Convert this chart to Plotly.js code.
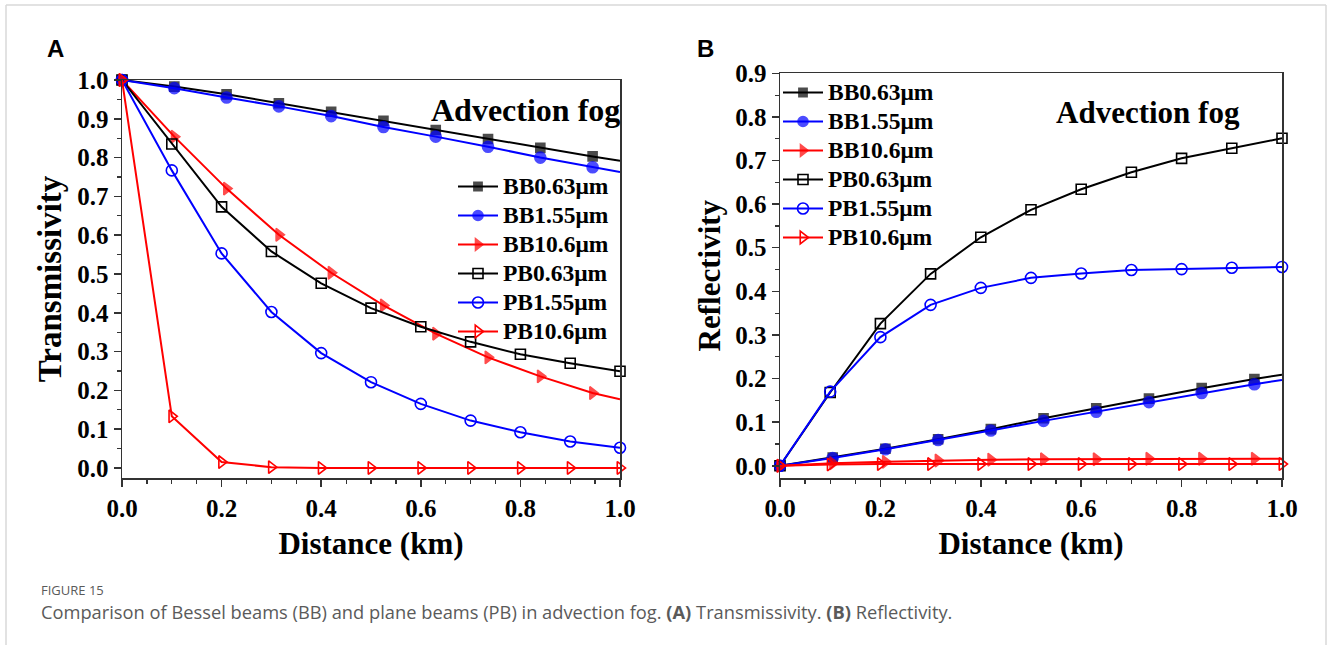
<!DOCTYPE html>
<html>
<head>
<meta charset="utf-8">
<script src="https://cdn.plot.ly/plotly-3.0.1.min.js"></script>
<style>
html,body{margin:0;padding:0;background:#fff;}
#chart{width:1332px;height:645px;}
</style>
</head>
<body>
<div id="chart"></div>
<script>
// ---------- data ----------
// Bessel beams sampled every 0.105 km (plus end point 1.0)
const xBB = [0, 0.105, 0.21, 0.315, 0.42, 0.525, 0.63, 0.735, 0.84, 0.945, 1.0];
// Plane beams sampled every 0.1 km
const xPB = [0, 0.1, 0.2, 0.3, 0.4, 0.5, 0.6, 0.7, 0.8, 0.9, 1.0];

// Panel A: transmissivity
const tBB063 = [1, 0.983, 0.963, 0.940, 0.918, 0.895, 0.871, 0.848, 0.825, 0.803, 0.792];
const tBB155 = [1, 0.979, 0.955, 0.932, 0.907, 0.879, 0.854, 0.828, 0.800, 0.775, 0.763];
const tBB106 = [1, 0.854, 0.720, 0.601, 0.503, 0.419, 0.346, 0.285, 0.236, 0.193, 0.177];
const tPB063 = [1, 0.835, 0.673, 0.558, 0.476, 0.412, 0.364, 0.325, 0.293, 0.270, 0.249];
const tPB155 = [1, 0.767, 0.553, 0.402, 0.296, 0.221, 0.165, 0.122, 0.092, 0.068, 0.052];
const tPB106 = [1, 0.133, 0.015, 0.002, 0, 0, 0, 0, 0, 0, 0];

// Panel B: reflectivity
const rBB063 = [0, 0.019, 0.039, 0.061, 0.084, 0.109, 0.132, 0.154, 0.178, 0.199, 0.209];
const rBB155 = [0, 0.018, 0.038, 0.059, 0.081, 0.103, 0.124, 0.146, 0.167, 0.187, 0.197];
const rBB106 = [0, 0.006, 0.009, 0.012, 0.014, 0.015, 0.015, 0.016, 0.016, 0.016, 0.016];
const rPB063 = [0, 0.168, 0.326, 0.440, 0.524, 0.587, 0.634, 0.673, 0.705, 0.728, 0.751];
const rPB155 = [0, 0.170, 0.295, 0.369, 0.408, 0.431, 0.441, 0.449, 0.451, 0.454, 0.456];
const rPB106 = [0, 0.003, 0.004, 0.004, 0.004, 0.004, 0.004, 0.004, 0.004, 0.004, 0.004];

const names = ["BB0.63μm", "BB1.55μm", "BB10.6μm", "PB0.63μm", "PB1.55μm", "PB10.6μm"];
const tickVals = [0, 0.2, 0.4, 0.6, 0.8, 1.0];
const tickText = ["0.0", "0.2", "0.4", "0.6", "0.8", "1.0"];

// ---------- styles ----------
const BLACK = "#000000", BLUE = "#0000ff", RED = "#ff0000";
const styles = [
  {color: BLACK, symbol: "square", size: 9},
  {color: BLUE, symbol: "circle", size: 11},
  {color: RED, symbol: "triangle-right", size: 11},
  {color: BLACK, symbol: "square-open", size: 10},
  {color: BLUE, symbol: "circle-open", size: 11},
  {color: RED, symbol: "triangle-right-open", size: 11}
];
// BB end point at 1.0 has no marker
const bbSizes = s => xBB.map((x, i) => i === xBB.length - 1 ? 0 : s);

function mk(i, x, y, xa, ya, legend) {
  const st = styles[i];
  const isBB = i < 3;
  return {
    x: x, y: y, xaxis: xa, yaxis: ya,
    name: '<span style="font-size:23.5px">' + names[i] + '</span>',
    legend: legend,
    type: "scatter", mode: "lines+markers", cliponaxis: false,
    line: {color: st.color, width: 2},
    marker: {color: st.color, symbol: st.symbol,
             size: isBB ? bbSizes(st.size) : st.size,
             line: {color: st.color, width: 1.6}}
  };
}

const tA = [tBB063, tBB155, tBB106, tPB063, tPB155, tPB106];
const rB = [rBB063, rBB155, rBB106, rPB063, rPB155, rPB106];
const data = [];
for (let i = 0; i < 6; i++) data.push(mk(i, i < 3 ? xBB : xPB, tA[i], "x", "y", "legend"));
for (let i = 0; i < 6; i++) data.push(mk(i, i < 3 ? xBB : xPB, rB[i], "x2", "y2", "legend2"));

const SERIF = "Liberation Serif, Times New Roman, serif";
const tickFont = {family: SERIF, size: 25, color: "#000", weight: "bold"};
const titleFont = {family: SERIF, size: 31, color: "#000", weight: "bold"};
const legFont = {family: SERIF, size: 20, color: "#000", weight: "bold"};
const AX = "#333333";

function xAxis(domain, anchor) {
  return {
    domain: domain, anchor: anchor, range: [0, 1.0],
    tickvals: tickVals, ticktext: tickText,
    ticks: "outside", ticklen: 7, tickwidth: 1.5, tickcolor: AX,
    minor: {dtick: 0.05, ticks: "outside", ticklen: 4, tickwidth: 1.2, tickcolor: AX},
    showline: true, linecolor: AX, linewidth: 1.5, mirror: true,
    showgrid: false, zeroline: false, tickfont: tickFont,
    title: {text: "Distance (km)", font: titleFont, standoff: 12}
  };
}
function yAxis(domain, anchor, range, vals, title, tsize, standoff) {
  return {
    domain: domain, anchor: anchor, range: range,
    tickvals: vals, ticktext: vals.map(v => v.toFixed(1)),
    ticks: "outside", ticklen: 7, tickwidth: 1.5, tickcolor: AX,
    minor: {dtick: 0.05, ticks: "outside", ticklen: 4, tickwidth: 1.2, tickcolor: AX},
    showline: true, linecolor: AX, linewidth: 1.5, mirror: true,
    showgrid: false, zeroline: false, tickfont: tickFont,
    title: {text: title, font: Object.assign({}, titleFont, {size: tsize}), standoff: standoff}
  };
}
const yValsA = [0, 0.1, 0.2, 0.3, 0.4, 0.5, 0.6, 0.7, 0.8, 0.9, 1.0];
const yValsB = [0, 0.1, 0.2, 0.3, 0.4, 0.5, 0.6, 0.7, 0.8, 0.9];

const W = 1332, H = 645;
const px = v => v / W, py = v => 1 - v / H;

const layout = {
  width: W, height: H,
  margin: {l: 0, r: 0, t: 0, b: 0},
  paper_bgcolor: "#fff", plot_bgcolor: "#fff",
  showlegend: true,
  xaxis: xAxis([px(122), px(620)], "y"),
  yaxis: yAxis([py(478), py(80)], "x", [-0.026, 1.0], yValsA, "Transmissivity", 33, 5),
  xaxis2: xAxis([px(780), px(1282)], "y2"),
  yaxis2: yAxis([py(478), py(73.3)], "x2", [-0.028, 0.9], yValsB, "Reflectivity", 31, 5),
  legend: {x: px(453), y: py(167), xanchor: "left", yanchor: "top",
           bgcolor: "rgba(0,0,0,0)", font: legFont, tracegroupgap: 0, itemwidth: 40},
  legend2: {x: px(778), y: py(73), xanchor: "left", yanchor: "top",
           bgcolor: "rgba(0,0,0,0)", font: legFont, tracegroupgap: 0, itemwidth: 40},
  annotations: [
    {text: "Advection fog", xref: "paper", yref: "paper", x: px(622), y: py(110),
     xanchor: "right", yanchor: "middle", showarrow: false,
     font: {family: SERIF, size: 32, color: "#000", weight: "bold"}},
    {text: "Advection fog", xref: "paper", yref: "paper", x: px(1148), y: py(113),
     xanchor: "center", yanchor: "middle", showarrow: false,
     font: {family: SERIF, size: 31, color: "#000", weight: "bold"}},
    {text: "A", xref: "paper", yref: "paper", x: px(45), y: py(48),
     xanchor: "left", yanchor: "middle", showarrow: false,
     font: {family: "Liberation Sans, Arial, sans-serif", size: 24, color: "#000", weight: "bold"}},
    {text: "B", xref: "paper", yref: "paper", x: px(695), y: py(48),
     xanchor: "left", yanchor: "middle", showarrow: false,
     font: {family: "Liberation Sans, Arial, sans-serif", size: 24, color: "#000", weight: "bold"}},
    {text: "FIGURE 15", xref: "paper", yref: "paper", x: px(39), y: py(589.5),
     xanchor: "left", yanchor: "middle", showarrow: false,
     font: {family: "Open Sans, Noto Sans, sans-serif", size: 13, color: "#5a5a5a"}},
    {text: "Comparison of Bessel beams (BB) and plane beams (PB) in advection fog. <b>(A)</b> Transmissivity. <b>(B)</b> Reflectivity.",
     xref: "paper", yref: "paper", x: px(39), y: py(611),
     xanchor: "left", yanchor: "middle", showarrow: false,
     font: {family: "Open Sans, Noto Sans, sans-serif", size: 18.3, color: "#5a5a5a"}}
  ],
  shapes: [
    {type: "line", xref: "paper", yref: "paper", x0: px(6), x1: px(6), y0: 0, y1: py(5),
     line: {color: "#d8d8d8", width: 1.5}},
    {type: "line", xref: "paper", yref: "paper", x0: px(6), x1: px(1326), y0: py(5), y1: py(5),
     line: {color: "#d8d8d8", width: 1.5}},
    {type: "line", xref: "paper", yref: "paper", x0: px(1326), x1: px(1326), y0: 0, y1: py(5),
     line: {color: "#d8d8d8", width: 1.5}}
  ]
};

Plotly.newPlot("chart", data, layout, {displayModeBar: false, staticPlot: true});
</script>
</body>
</html>
